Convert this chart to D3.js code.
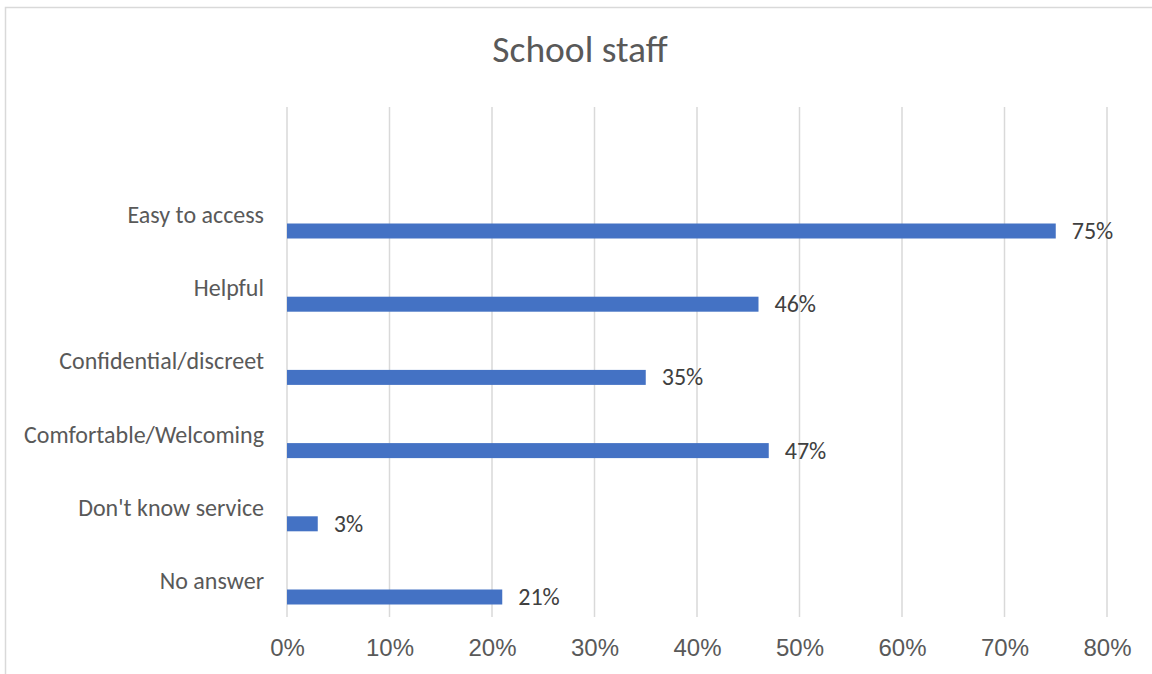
<!DOCTYPE html>
<html>
<head>
<meta charset="utf-8">
<script src="https://cdn.jsdelivr.net/npm/d3@7"></script>
<style>
  html, body { margin: 0; padding: 0; background: #ffffff; }
  svg { display: block; font-family: Calibri, Carlito, Lato, sans-serif; }
</style>
</head>
<body>
<svg id="chart" width="1152" height="674"></svg>
<script>
// Survey responses about school staff
const categories = ["Easy to access", "Helpful", "Confidential/discreet", "Comfortable/Welcoming", "Don't know service", "No answer"];
const values = [75, 46, 35, 47, 3, 21];
const tickValues = [0, 10, 20, 30, 40, 50, 60, 70, 80];
const title = "School staff";

const svg = d3.select("#chart");
const W = 1152, H = 674;

// chart frame
svg.append("rect")
  .attr("x", 5.5).attr("y", 7.5)
  .attr("width", W + 10).attr("height", H + 10)
  .attr("fill", "#fff").attr("stroke", "#d9d9d9").attr("stroke-width", 1.5);

const x = d3.scaleLinear().domain([0, 80]).range([287, 1107]);
const y = d3.scaleBand().domain(categories).range([194.4, 633.6]).paddingInner(0).paddingOuter(0);
const gridTop = 107, gridBottom = 617;
const barH = 15;
const fs = 24;

// title
svg.append("text")
  .attr("x", 580).attr("y", 62)
  .attr("text-anchor", "middle")
  .attr("font-size", 37.5)
  .attr("fill", "#595959")
  .text(title);

// vertical gridlines
svg.append("g").selectAll("line")
  .data(tickValues)
  .join("line")
  .attr("x1", d => x(d)).attr("x2", d => x(d))
  .attr("y1", gridTop).attr("y2", gridBottom)
  .attr("stroke", "#d9d9d9").attr("stroke-width", 1.5);

// x axis tick labels
const xAxis = d3.axisBottom(x)
  .tickValues(tickValues)
  .tickFormat(d => d + "%")
  .tickSize(0)
  .tickPadding(0);
const gx = svg.append("g").attr("transform", `translate(0, ${gridBottom})`).call(xAxis);
gx.select(".domain").remove();
gx.selectAll("text")
  .attr("y", 39).attr("dy", 0)
  .attr("font-size", fs)
  .attr("font-family", null)
  .attr("fill", "#595959");

// bars
const bandMid = d => y(d) + y.bandwidth() / 2;
svg.append("g").selectAll("rect")
  .data(categories)
  .join("rect")
  .attr("x", x(0))
  .attr("y", d => bandMid(d) - barH / 2)
  .attr("width", (d, i) => x(values[i]) - x(0))
  .attr("height", barH)
  .attr("fill", "#4472c4");

// category labels, sitting above each bar
svg.append("g").selectAll("text")
  .data(categories)
  .join("text")
  .attr("x", 264)
  .attr("y", d => bandMid(d) - 8)
  .attr("text-anchor", "end")
  .attr("font-size", fs)
  .attr("fill", "#595959")
  .text(d => d);

// value labels
svg.append("g").selectAll("text")
  .data(categories)
  .join("text")
  .attr("x", (d, i) => x(values[i]) + 16)
  .attr("y", d => bandMid(d) + 8)
  .attr("font-size", fs)
  .attr("fill", "#404040")
  .text((d, i) => values[i] + "%");
</script>
</body>
</html>
